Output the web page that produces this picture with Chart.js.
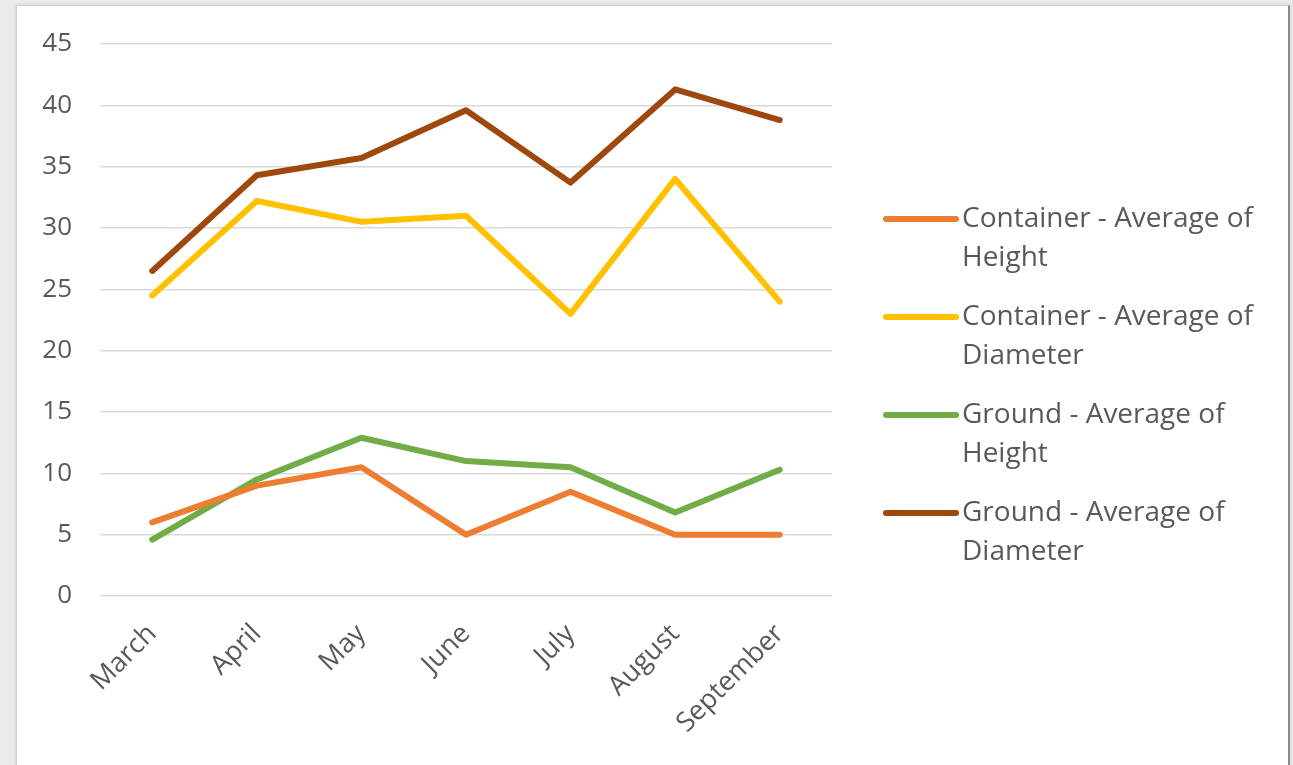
<!DOCTYPE html>
<html>
<head>
<meta charset="utf-8">
<script src="https://cdn.jsdelivr.net/npm/chart.js@4/dist/chart.umd.min.js"></script>
<style>
  html, body { margin: 0; padding: 0; background: #ebebeb; }
  #panel {
    position: absolute; left: 16px; top: 5px; width: 1271px; height: 770px;
    background: #fff; border: 1px solid #d0d0d0; border-right: 2px solid #8a8a8a;
    box-shadow: 0 0 4px rgba(0,0,0,0.12);
  }
  #wrap { position: absolute; left: 0; top: 0; width: 1293px; height: 765px; }
</style>
</head>
<body>
<div id="panel"></div>
<div id="wrap"><canvas id="chart" width="1293" height="765"></canvas></div>
<script>
const months = ["March", "April", "May", "June", "July", "August", "September"];
const seriesNames = [
  ["Container - Average of", "Height"],
  ["Container - Average of", "Diameter"],
  ["Ground - Average of", "Height"],
  ["Ground - Average of", "Diameter"]
];
const containerHeight = [6, 9, 10.5, 5, 8.5, 5, 5];
const containerDiameter = [24.5, 32.2, 30.5, 31, 23, 34, 24];
const groundHeight = [4.6, 9.5, 12.9, 11, 10.5, 6.8, 10.3];
const groundDiameter = [26.5, 34.3, 35.7, 39.6, 33.7, 41.3, 38.8];
const colors = ["#ED7D31", "#FFC000", "#70AD47", "#9E480E"];

const FONT = "Open Sans";
const TEXT = "#595959";

// legend with two-line labels, drawn to the right of the plot
const sideLegend = {
  id: "sideLegend",
  afterDraw(chart) {
    const ctx = chart.ctx;
    ctx.save();
    ctx.font = "28px '" + FONT + "'";
    ctx.textBaseline = "middle";
    chart.data.datasets.forEach((ds, i) => {
      const y = 219 + i * 98;
      ctx.strokeStyle = ds.borderColor;
      ctx.lineWidth = 6;
      ctx.lineCap = "round";
      ctx.beginPath();
      ctx.moveTo(886, y);
      ctx.lineTo(956, y);
      ctx.stroke();
      ctx.fillStyle = TEXT;
      seriesNames[i].forEach((line, j) => {
        ctx.fillText(line, 962, y + j * 39);
      });
    });
    ctx.restore();
  }
};

new Chart(document.getElementById("chart").getContext("2d"), {
  type: "line",
  data: {
    labels: months,
    datasets: [containerHeight, containerDiameter, groundHeight, groundDiameter].map((d, i) => ({
      label: seriesNames[i].join(" "),
      data: d,
      borderColor: colors[i],
      backgroundColor: colors[i],
      borderWidth: 6,
      pointRadius: 0,
      tension: 0,
      borderCapStyle: "round",
      borderJoinStyle: "round"
    }))
  },
  options: {
    responsive: false,
    animation: false,
    layout: { padding: { left: 0, right: 461, top: 44, bottom: 0 } },
    plugins: { legend: { display: false }, tooltip: { enabled: false } },
    scales: {
      x: {
        offset: true,
        grid: { display: false },
        border: { display: false },
        ticks: {
          color: TEXT,
          font: { family: FONT, size: 27 },
          minRotation: 45, maxRotation: 45,
          padding: 14
        },
        afterFit(scale) { scale.height = 169; }
      },
      y: {
        min: 0, max: 45,
        grid: { color: "#d9d9d9", lineWidth: 1.5, drawTicks: false },
        border: { display: false },
        ticks: {
          stepSize: 5,
          color: TEXT,
          font: { family: FONT, size: 26 },
          padding: 28
        },
        afterFit(scale) { scale.width = 100; }
      }
    }
  },
  plugins: [sideLegend]
});
</script>
</body>
</html>
